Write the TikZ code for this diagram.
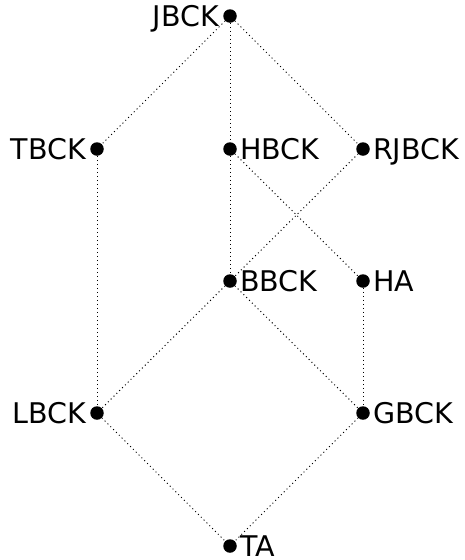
\documentclass[tikz,border=0pt]{standalone}
\usepackage{fontspec}
\setmainfont{DejaVu Sans}
\begin{document}
\begin{tikzpicture}[x=1pt,y=-1pt,
  pt/.style={circle,fill=black,inner sep=0pt,minimum size=13.5pt},
  lab/.style={font=\fontsize{28.5}{32}\selectfont,inner sep=0pt},
  edge/.style={line width=1pt,dash pattern=on 1pt off 3pt}]
\useasboundingbox (0,0) rectangle (464,560);
% lattice points
\node[pt] (jbck)  at (230,16)  {};
\node[pt] (tbck)  at (97,149)  {};
\node[pt] (hbck)  at (230,149) {};
\node[pt] (rjbck) at (363,149) {};
\node[pt] (bbck)  at (230,281) {};
\node[pt] (ha)    at (363,281) {};
\node[pt] (lbck)  at (97,413)  {};
\node[pt] (gbck)  at (363,413) {};
\node[pt] (ta)    at (230,546) {};
% labels, baseline set so the capitals are centred on the point
\node[lab,anchor=base east] (tjbck)  at ([xshift=-4pt,yshift=-10pt]jbck.west)  {JBCK};
\node[lab,anchor=base east] (ttbck)  at ([xshift=-4pt,yshift=-10pt]tbck.west)  {TBCK};
\node[lab,anchor=base west] (thbck)  at ([xshift=3pt,yshift=-10pt]hbck.east)   {HBCK};
\node[lab,anchor=base west] (trjbck) at ([xshift=3pt,yshift=-10pt]rjbck.east)  {RJBCK};
\node[lab,anchor=base west] (tbbck)  at ([xshift=3pt,yshift=-10pt]bbck.east)   {BBCK};
\node[lab,anchor=base west] (tha)    at ([xshift=3pt,yshift=-10pt]ha.east)     {HA};
\node[lab,anchor=base east] (tlbck)  at ([xshift=-4pt,yshift=-10pt]lbck.west)  {LBCK};
\node[lab,anchor=base west] (tgbck)  at ([xshift=3pt,yshift=-10pt]gbck.east)   {GBCK};
\node[lab,anchor=base west] (tta)    at ([xshift=3pt,yshift=-10pt]ta.east)     {TA};
% order relations
\draw[edge] (jbck) -- (tbck);
\draw[edge] (jbck) -- (hbck);
\draw[edge] (jbck) -- (rjbck);
\draw[edge] (tbck) -- (lbck);
\draw[edge] (hbck) -- (bbck);
\draw[edge] (hbck) -- (ha);
\draw[edge] (rjbck) -- (bbck);
\draw[edge] (ha) -- (gbck);
\draw[edge] (bbck) -- (lbck);
\draw[edge] (bbck) -- (gbck);
\draw[edge] (lbck) -- (ta);
\draw[edge] (gbck) -- (ta);
\end{tikzpicture}
\end{document}
